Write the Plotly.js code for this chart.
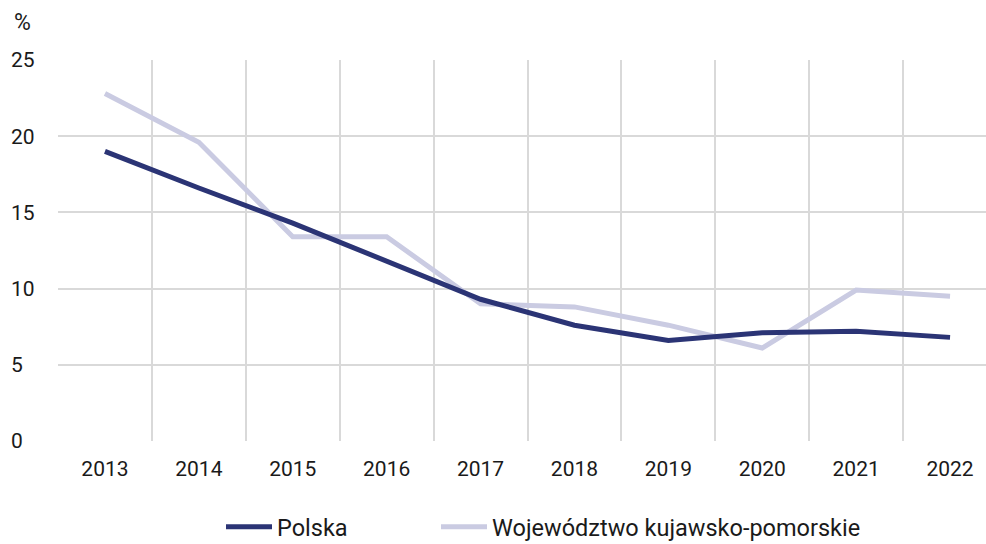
<!DOCTYPE html>
<html>
<head>
<meta charset="utf-8">
<script src="https://cdn.plot.ly/plotly-3.0.1.min.js"></script>
<style>html,body{margin:0;padding:0;background:#fff;}#chart{width:986px;height:544px;}</style>
</head>
<body>
<div id="chart"></div>
<script>
const years = [2013, 2014, 2015, 2016, 2017, 2018, 2019, 2020, 2021, 2022];
const polska = [19.0, 16.6, 14.3, 11.8, 9.3, 7.6, 6.6, 7.1, 7.2, 6.8];
const kujawsko = [22.8, 19.6, 13.4, 13.4, 9.0, 8.8, 7.6, 6.1, 9.9, 9.5];
const gridYears = [2012.5, 2013.5, 2014.5, 2015.5, 2016.5, 2017.5, 2018.5, 2019.5, 2020.5, 2021.5];
const yTicks = [0, 5, 10, 15, 20, 25];
const seriesNames = ['Polska', 'Województwo kujawsko-pomorskie'];

const tickFont = {family: 'Roboto, sans-serif', size: 21, color: '#1a1a1a'};
const legendFont = {family: 'Roboto, sans-serif', size: 23.5, color: '#1a1a1a'};
const xr = [2012.5, 2012.5 + (986 - 58) / 93.9];

const data = [
  {x: years, y: kujawsko, name: seriesNames[1], type: 'scatter', mode: 'lines',
   line: {color: '#cacbe2', width: 5}, xaxis: 'x', yaxis: 'y', legend: 'legend2'},
  {x: years, y: polska, name: seriesNames[0], type: 'scatter', mode: 'lines',
   line: {color: '#2b3475', width: 5}, xaxis: 'x', yaxis: 'y', legend: 'legend'},
  {x: [gridYears[0]], y: [null], xaxis: 'x2', yaxis: 'y', showlegend: false, hoverinfo: 'skip', mode: 'lines'}
];

const legendBase = {orientation: 'h', xref: 'container', yref: 'container', xanchor: 'left', yanchor: 'middle',
                    y: 1 - 527/544, font: legendFont, itemwidth: 46, bgcolor: 'rgba(0,0,0,0)'};

const layout = {
  width: 986, height: 544,
  margin: {l: 0, r: 0, t: 60, b: 103, pad: 0, autoexpand: false},
  paper_bgcolor: '#ffffff', plot_bgcolor: '#ffffff',
  showlegend: true,
  legend: Object.assign({}, legendBase, {x: 221/986}),
  legend2: Object.assign({}, legendBase, {x: 436/986}),
  xaxis: {domain: [58/986, 1], range: xr, type: 'linear', tickvals: years, ticktext: years.map(String),
          showgrid: false, zeroline: false, showline: false, ticks: '', tickfont: tickFont, ticklabelstandoff: 13},
  xaxis2: {domain: [58/986, 1], range: xr, overlaying: 'x', matches: 'x', tickvals: gridYears, showticklabels: false,
           showgrid: true, gridcolor: '#d9d9d9', gridwidth: 2, zeroline: false, ticks: '', anchor: 'y'},
  yaxis: {range: [0, 25], tickvals: yTicks, anchor: 'free', position: 10/986, side: 'right',
          showgrid: true, gridcolor: '#d9d9d9', gridwidth: 2, zeroline: false, showline: false, ticks: '',
          tickfont: tickFont},
  annotations: [{text: '%', xref: 'paper', yref: 'paper', x: 12/986, y: (441-22)/381, xanchor: 'left', yanchor: 'middle',
                 showarrow: false, font: {family: 'Roboto, sans-serif', size: 23, color: '#1a1a1a'}}]
};

Plotly.newPlot('chart', data, layout, {displayModeBar: false, staticPlot: true});
</script>
</body>
</html>
